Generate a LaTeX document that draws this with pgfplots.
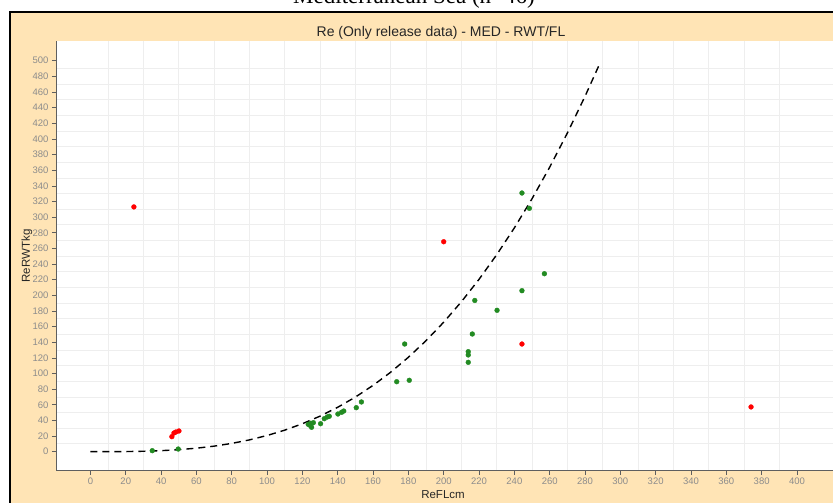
\documentclass[border=0pt]{standalone}
\usepackage{pgfplots}
\pgfplotsset{compat=1.18}
\usepackage{fontspec}
\setmainfont{Liberation Sans}
\newfontfamily\seriffam{Liberation Serif}
\definecolor{bgm}{RGB}{255,228,181}
\definecolor{tickgray}{RGB}{140,140,140}
\definecolor{axgray}{RGB}{95,95,95}
\definecolor{fgreen}{RGB}{34,139,34}
\definecolor{gridc}{RGB}{238,238,238}
\begin{document}
\begin{tikzpicture}[x=1pt,y=1pt]
\clip (0,0) rectangle (833,503);
\fill[white] (0,0) rectangle (833,503);
\fill[bgm] (10,0) rectangle (833,491);
\draw[black, line width=2.5pt] (10,0) -- (10,491) -- (833,491);
\node[overlay, font=\seriffam\fontsize{23}{26}\selectfont, anchor=base] at (414,499) {Mediterranean Sea (n=46)};
\begin{axis}[
  at={(56pt,32.3pt)}, anchor=south west,
  scale only axis, width=777pt, height=429.7pt,
  xmin=-19.5, xmax=420.4, ymin=-24.3, ymax=525.2,
  axis x line*=bottom, axis y line*=left,
  axis line style={axgray, line width=0.9pt, -},
  xtick={0,20,...,400}, ytick={0,20,...,500},
  minor x tick num=1, minor y tick num=1,
  grid=minor, minor grid style={gridc, line width=0.9pt},
  tick align=outside, major tick length=4pt, minor tick length=0pt,
  tick style={axgray, line width=0.6pt},
  ticklabel style={font=\fontsize{9.5}{10}\selectfont, text=tickgray},
  /pgf/number format/assume math mode=true,
  /pgf/number format/1000 sep={},
  axis background/.style={fill=white},
]
\addplot[only marks, mark=*, mark size=2.4pt, color=fgreen, mark options={draw=fgreen, fill=fgreen}] coordinates {
(35,1.3) (49.7,3.4)
(123.3,35) (124.7,36.3) (126.2,37.1) (125.2,31.2) (124.3,33.8) (130.3,35.8) (132.4,42.2) (134.1,44.4) (135.2,45.3) (140.1,48.2) (142.2,50.4) (143.4,52) (150.5,56.3) (153.4,63.6)
(177.9,137.7) (173.4,89.5) (180.5,91.3)
(213.9,114.3) (213.9,123.7) (213.9,127.9) (216.2,150.5) (217.6,193.4) (230.2,180.8)
(244.3,330.8) (248.5,311.2) (257,227.6) (244.3,205.9)
};
\addplot[only marks, mark=*, mark size=2.4pt, color=red, mark options={draw=red, fill=red}] coordinates {
(24.6,313) (46.1,19.2) (47.3,23.9) (48.4,25.2) (50.1,26.5) (200,268.5) (244.3,137.7) (374,57.2)
};
\addplot[black, line width=1.4pt, dash pattern=on 7pt off 5pt] coordinates {
(0,0) (10,0.021) (20,0.166) (30,0.559) (40,1.325) (50,2.588) (60,4.471) (70,7.10) (80,10.60) (90,15.09) (100,20.70) (110,27.55) (120,35.77) (130,45.48) (140,56.80) (150,69.86) (160,84.79) (170,101.70) (180,120.73) (190,141.99) (200,165.61) (210,191.71) (220,220.42) (230,251.87) (240,286.17) (250,323.46) (260,363.84) (270,407.45) (280,454.43) (288,494.5)
};
\end{axis}
\node[font=\fontsize{14}{16}\selectfont, text=black!85] at (441,470) {Re (Only release data) - MED - RWT/FL};
\node[font=\fontsize{11.5}{13}\selectfont, text=black!85] at (443,8) {ReFLcm};
\node[rotate=90, font=\fontsize{11.5}{13}\selectfont, text=black!85] at (27,247) {ReRWTkg};
\end{tikzpicture}
\end{document}
